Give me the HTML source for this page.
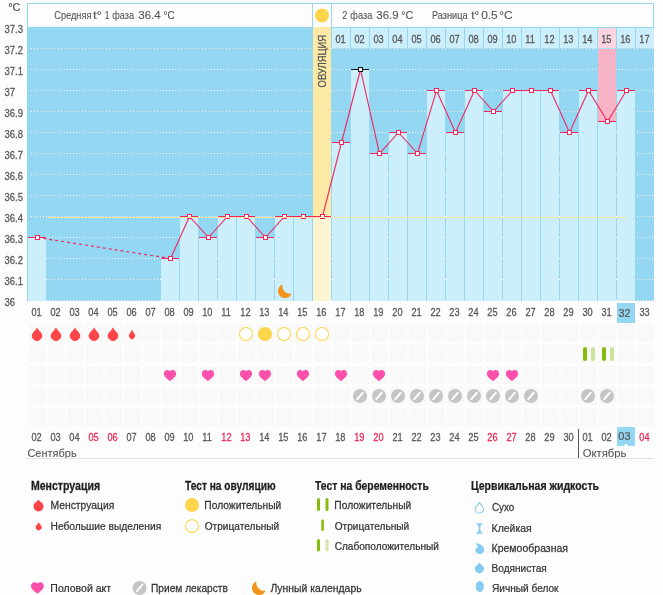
<!DOCTYPE html>
<html><head><meta charset="utf-8"><style>
html,body{margin:0;padding:0;background:#fdfdfd;}
body{width:663px;height:595px;position:relative;overflow:hidden;font-family:'Liberation Sans', sans-serif;}
</style></head><body>
<svg width="663" height="595" viewBox="0 0 663 595" style="position:absolute;left:0;top:0;will-change:transform" font-family="'Liberation Sans', sans-serif"><defs><pattern id="dots" x="31" y="0" width="3" height="1" patternUnits="userSpaceOnUse"><rect width="1" height="1" fill="#fff"/></pattern><pattern id="hatch" x="0" y="0" width="3" height="3" patternUnits="userSpaceOnUse"><rect width="3" height="3" fill="#fcfcfc"/><rect x="0" y="0" width="1" height="1" fill="#f3f3f3"/><rect x="1" y="1" width="1" height="1" fill="#f3f3f3"/><rect x="2" y="2" width="1" height="1" fill="#f3f3f3"/></pattern></defs><rect x="27" y="3" width="627" height="298" fill="#93d7f3" shape-rendering="crispEdges"/><g fill="#fdfdfd" shape-rendering="crispEdges"><rect x="28" y="4" width="284" height="23"/><rect x="313" y="4" width="18" height="23"/><rect x="332" y="4" width="321" height="23"/></g><g shape-rendering="crispEdges"><rect x="31" y="48" width="623" height="1" fill="url(#dots)"/><rect x="31" y="69" width="623" height="1" fill="url(#dots)"/><rect x="31" y="90" width="623" height="1" fill="url(#dots)"/><rect x="31" y="111" width="623" height="1" fill="url(#dots)"/><rect x="31" y="132" width="623" height="1" fill="url(#dots)"/><rect x="31" y="153" width="623" height="1" fill="url(#dots)"/><rect x="31" y="174" width="623" height="1" fill="url(#dots)"/><rect x="31" y="195" width="623" height="1" fill="url(#dots)"/><rect x="31" y="216" width="623" height="1" fill="url(#dots)"/><rect x="31" y="237" width="623" height="1" fill="url(#dots)"/><rect x="31" y="258" width="623" height="1" fill="url(#dots)"/><rect x="31" y="279" width="623" height="1" fill="url(#dots)"/><rect x="31" y="300" width="623" height="1" fill="url(#dots)"/></g><g fill="#cdeefb" shape-rendering="crispEdges"><rect x="332" y="28" width="18" height="20"/><rect x="351" y="28" width="18" height="20"/><rect x="370" y="28" width="18" height="20"/><rect x="389" y="28" width="18" height="20"/><rect x="408" y="28" width="18" height="20"/><rect x="427" y="28" width="18" height="20"/><rect x="446" y="28" width="18" height="20"/><rect x="465" y="28" width="18" height="20"/><rect x="484" y="28" width="18" height="20"/><rect x="503" y="28" width="18" height="20"/><rect x="522" y="28" width="18" height="20"/><rect x="541" y="28" width="18" height="20"/><rect x="560" y="28" width="18" height="20"/><rect x="579" y="28" width="18" height="20"/><rect x="598" y="28" width="18" height="20"/><rect x="617" y="28" width="18" height="20"/><rect x="636" y="28" width="18" height="20"/></g><rect x="313" y="27" width="18" height="274" fill="#fce9a6" shape-rendering="crispEdges"/><rect x="313" y="216" width="18" height="85" fill="#fdf4d1" shape-rendering="crispEdges"/><rect x="598" y="49" width="18" height="72" fill="#f8b4c7" shape-rendering="crispEdges"/><rect x="598" y="28" width="18" height="20" fill="#fbd6e0" shape-rendering="crispEdges"/><g fill="#cdeefb" shape-rendering="crispEdges"><rect x="28" y="237" width="18" height="64"/><rect x="161" y="258" width="18" height="43"/><rect x="180" y="216" width="18" height="85"/><rect x="199" y="237" width="18" height="64"/><rect x="218" y="216" width="18" height="85"/><rect x="237" y="216" width="18" height="85"/><rect x="256" y="237" width="18" height="64"/><rect x="275" y="216" width="18" height="85"/><rect x="294" y="216" width="18" height="85"/><rect x="332" y="142" width="18" height="159"/><rect x="351" y="69" width="18" height="232"/><rect x="370" y="153" width="18" height="148"/><rect x="389" y="132" width="18" height="169"/><rect x="408" y="153" width="18" height="148"/><rect x="427" y="90" width="18" height="211"/><rect x="446" y="132" width="18" height="169"/><rect x="465" y="90" width="18" height="211"/><rect x="484" y="111" width="18" height="190"/><rect x="503" y="90" width="18" height="211"/><rect x="522" y="90" width="18" height="211"/><rect x="541" y="90" width="18" height="211"/><rect x="560" y="132" width="18" height="169"/><rect x="579" y="90" width="18" height="211"/><rect x="598" y="121" width="18" height="180"/><rect x="617" y="90" width="18" height="211"/></g><g shape-rendering="crispEdges"><rect x="28" y="237" width="18" height="1" fill="#f0265c"/><rect x="161" y="258" width="18" height="1" fill="#f0265c"/><rect x="180" y="216" width="18" height="1" fill="#f0265c"/><rect x="199" y="237" width="18" height="1" fill="#f0265c"/><rect x="218" y="216" width="18" height="1" fill="#f0265c"/><rect x="237" y="216" width="18" height="1" fill="#f0265c"/><rect x="256" y="237" width="18" height="1" fill="#f0265c"/><rect x="275" y="216" width="18" height="1" fill="#f0265c"/><rect x="294" y="216" width="18" height="1" fill="#f0265c"/><rect x="313" y="216" width="18" height="1" fill="#f0265c"/><rect x="332" y="142" width="18" height="1" fill="#f0265c"/><rect x="351" y="69" width="18" height="1" fill="#111"/><rect x="370" y="153" width="18" height="1" fill="#f0265c"/><rect x="389" y="132" width="18" height="1" fill="#f0265c"/><rect x="408" y="153" width="18" height="1" fill="#f0265c"/><rect x="427" y="90" width="18" height="1" fill="#f0265c"/><rect x="446" y="132" width="18" height="1" fill="#f0265c"/><rect x="465" y="90" width="18" height="1" fill="#f0265c"/><rect x="484" y="111" width="18" height="1" fill="#f0265c"/><rect x="503" y="90" width="18" height="1" fill="#f0265c"/><rect x="522" y="90" width="18" height="1" fill="#f0265c"/><rect x="541" y="90" width="18" height="1" fill="#f0265c"/><rect x="560" y="132" width="18" height="1" fill="#f0265c"/><rect x="579" y="90" width="18" height="1" fill="#f0265c"/><rect x="598" y="121" width="18" height="1" fill="#f0265c"/><rect x="617" y="90" width="18" height="1" fill="#f0265c"/></g><line x1="37.5" y1="237.5" x2="170.5" y2="258.5" stroke="#f0265c" stroke-dasharray="3 3" stroke-width="1.2"/><path d="M170.5 258.5 L189.5 216.5 L208.5 237.5 L227.5 216.5 L246.5 216.5 L265.5 237.5 L284.5 216.5 L303.5 216.5 L322.5 216.5 L341.5 142.5 L360.5 69.5 L379.5 153.5 L398.5 132.5 L417.5 153.5 L436.5 90.5 L455.5 132.5 L474.5 90.5 L493.5 111.5 L512.5 90.5 L531.5 90.5 L550.5 90.5 L569.5 132.5 L588.5 90.5 L607.5 121.5 L626.5 90.5" fill="none" stroke="#f0265c" stroke-width="1.1"/><g shape-rendering="crispEdges"><rect x="35" y="235" width="5" height="5" fill="#f0265c"/><rect x="36" y="236" width="3" height="3" fill="#fff"/><rect x="168" y="256" width="5" height="5" fill="#f0265c"/><rect x="169" y="257" width="3" height="3" fill="#fff"/><rect x="187" y="214" width="5" height="5" fill="#f0265c"/><rect x="188" y="215" width="3" height="3" fill="#fff"/><rect x="206" y="235" width="5" height="5" fill="#f0265c"/><rect x="207" y="236" width="3" height="3" fill="#fff"/><rect x="225" y="214" width="5" height="5" fill="#f0265c"/><rect x="226" y="215" width="3" height="3" fill="#fff"/><rect x="244" y="214" width="5" height="5" fill="#f0265c"/><rect x="245" y="215" width="3" height="3" fill="#fff"/><rect x="263" y="235" width="5" height="5" fill="#f0265c"/><rect x="264" y="236" width="3" height="3" fill="#fff"/><rect x="282" y="214" width="5" height="5" fill="#f0265c"/><rect x="283" y="215" width="3" height="3" fill="#fff"/><rect x="301" y="214" width="5" height="5" fill="#f0265c"/><rect x="302" y="215" width="3" height="3" fill="#fff"/><rect x="320" y="214" width="5" height="5" fill="#f0265c"/><rect x="321" y="215" width="3" height="3" fill="#fff"/><rect x="339" y="140" width="5" height="5" fill="#f0265c"/><rect x="340" y="141" width="3" height="3" fill="#fff"/><rect x="358" y="67" width="5" height="5" fill="#111"/><rect x="359" y="68" width="3" height="3" fill="#fff"/><rect x="377" y="151" width="5" height="5" fill="#f0265c"/><rect x="378" y="152" width="3" height="3" fill="#fff"/><rect x="396" y="130" width="5" height="5" fill="#f0265c"/><rect x="397" y="131" width="3" height="3" fill="#fff"/><rect x="415" y="151" width="5" height="5" fill="#f0265c"/><rect x="416" y="152" width="3" height="3" fill="#fff"/><rect x="434" y="88" width="5" height="5" fill="#f0265c"/><rect x="435" y="89" width="3" height="3" fill="#fff"/><rect x="453" y="130" width="5" height="5" fill="#f0265c"/><rect x="454" y="131" width="3" height="3" fill="#fff"/><rect x="472" y="88" width="5" height="5" fill="#f0265c"/><rect x="473" y="89" width="3" height="3" fill="#fff"/><rect x="491" y="109" width="5" height="5" fill="#f0265c"/><rect x="492" y="110" width="3" height="3" fill="#fff"/><rect x="510" y="88" width="5" height="5" fill="#f0265c"/><rect x="511" y="89" width="3" height="3" fill="#fff"/><rect x="529" y="88" width="5" height="5" fill="#f0265c"/><rect x="530" y="89" width="3" height="3" fill="#fff"/><rect x="548" y="88" width="5" height="5" fill="#f0265c"/><rect x="549" y="89" width="3" height="3" fill="#fff"/><rect x="567" y="130" width="5" height="5" fill="#f0265c"/><rect x="568" y="131" width="3" height="3" fill="#fff"/><rect x="586" y="88" width="5" height="5" fill="#f0265c"/><rect x="587" y="89" width="3" height="3" fill="#fff"/><rect x="605" y="119" width="5" height="5" fill="#f0265c"/><rect x="606" y="120" width="3" height="3" fill="#fff"/><rect x="624" y="88" width="5" height="5" fill="#f0265c"/><rect x="625" y="89" width="3" height="3" fill="#fff"/></g><rect x="47" y="217" width="579" height="1" fill="#f6e3a1" shape-rendering="crispEdges"/><path transform="translate(278,284) scale(1.0)" d="M4.32 0.53 A7 7 0 1 0 13.48 9.65 A7.93 7.93 0 0 1 4.32 0.53 Z" fill="#f39418"/><circle cx="322" cy="15.5" r="7" fill="#fcd54b"/><text transform="translate(54.23,19) scale(0.923,1)" font-size="10" fill="#555" stroke="#555" stroke-width="0.1">Средняя</text><text transform="translate(92.90,19) scale(1.311,1)" font-size="10" fill="#555" stroke="#555" stroke-width="0.1">t°</text><text transform="translate(104.76,19) scale(0.835,1)" font-size="10" fill="#555" stroke="#555" stroke-width="0.1">1</text><text transform="translate(112.32,19) scale(0.914,1)" font-size="10" fill="#555" stroke="#555" stroke-width="0.1">фаза</text><text transform="translate(138.26,19) scale(1.050,1)" font-size="11" fill="#555" stroke="#555" stroke-width="0.1">36.4</text><text transform="translate(163.41,19) scale(0.905,1)" font-size="11" fill="#555" stroke="#555" stroke-width="0.1">°C</text><text transform="translate(342.34,19) scale(0.922,1)" font-size="10" fill="#555" stroke="#555" stroke-width="0.1">2</text><text transform="translate(350.31,19) scale(0.923,1)" font-size="10" fill="#555" stroke="#555" stroke-width="0.1">фаза</text><text transform="translate(376.36,19) scale(1.041,1)" font-size="11" fill="#555" stroke="#555" stroke-width="0.1">36.9</text><text transform="translate(401.25,19) scale(0.985,1)" font-size="11" fill="#555" stroke="#555" stroke-width="0.1">°C</text><text transform="translate(431.95,19) scale(0.919,1)" font-size="10" fill="#555" stroke="#555" stroke-width="0.1">Разница</text><text transform="translate(471.22,19) scale(1.178,1)" font-size="10" fill="#555" stroke="#555" stroke-width="0.1">t°</text><text transform="translate(481.13,19) scale(1.083,1)" font-size="11" fill="#555" stroke="#555" stroke-width="0.1">0.5</text><text transform="translate(499.19,19) scale(1.083,1)" font-size="11" fill="#555" stroke="#555" stroke-width="0.1">°C</text><g transform="translate(326.3,87) rotate(-90)"><text transform="translate(-0.45,0) scale(0.944,1)" font-size="10" fill="#555" stroke="#555" stroke-width="0.25">ОВУЛЯЦИЯ</text></g><text transform="translate(335.43,42.8) scale(0.920,1)" font-size="10" fill="#555" stroke="#555" stroke-width="0.25">01</text><text transform="translate(354.44,42.8) scale(0.920,1)" font-size="10" fill="#555" stroke="#555" stroke-width="0.25">02</text><text transform="translate(373.41,42.8) scale(0.920,1)" font-size="10" fill="#555" stroke="#555" stroke-width="0.25">03</text><text transform="translate(392.34,42.8) scale(0.920,1)" font-size="10" fill="#555" stroke="#555" stroke-width="0.25">04</text><text transform="translate(411.40,42.8) scale(0.920,1)" font-size="10" fill="#555" stroke="#555" stroke-width="0.25">05</text><text transform="translate(430.41,42.8) scale(0.920,1)" font-size="10" fill="#555" stroke="#555" stroke-width="0.25">06</text><text transform="translate(449.44,42.8) scale(0.920,1)" font-size="10" fill="#555" stroke="#555" stroke-width="0.25">07</text><text transform="translate(468.40,42.8) scale(0.920,1)" font-size="10" fill="#555" stroke="#555" stroke-width="0.25">08</text><text transform="translate(487.42,42.8) scale(0.920,1)" font-size="10" fill="#555" stroke="#555" stroke-width="0.25">09</text><text transform="translate(506.21,42.8) scale(0.920,1)" font-size="10" fill="#555" stroke="#555" stroke-width="0.25">10</text><text transform="translate(525.26,42.8) scale(0.920,1)" font-size="10" fill="#555" stroke="#555" stroke-width="0.25">11</text><text transform="translate(544.26,42.8) scale(0.920,1)" font-size="10" fill="#555" stroke="#555" stroke-width="0.25">12</text><text transform="translate(563.24,42.8) scale(0.920,1)" font-size="10" fill="#555" stroke="#555" stroke-width="0.25">13</text><text transform="translate(582.17,42.8) scale(0.920,1)" font-size="10" fill="#555" stroke="#555" stroke-width="0.25">14</text><text transform="translate(601.23,42.8) scale(0.920,1)" font-size="10" fill="#555" stroke="#555" stroke-width="0.25">15</text><text transform="translate(620.24,42.8) scale(0.920,1)" font-size="10" fill="#555" stroke="#555" stroke-width="0.25">16</text><text transform="translate(639.26,42.8) scale(0.920,1)" font-size="10" fill="#555" stroke="#555" stroke-width="0.25">17</text><text transform="translate(8.25,11) scale(0.942,1)" font-size="11.5" fill="#555" stroke="#555" stroke-width="0.25">°C</text><text transform="translate(4.44,33) scale(0.950,1)" font-size="10" fill="#555" stroke="#555" stroke-width="0.25">37.3</text><text transform="translate(4.44,54) scale(0.950,1)" font-size="10" fill="#555" stroke="#555" stroke-width="0.25">37.2</text><text transform="translate(4.44,75) scale(0.950,1)" font-size="10" fill="#555" stroke="#555" stroke-width="0.25">37.1</text><text transform="translate(4.44,96) scale(0.950,1)" font-size="10" fill="#555" stroke="#555" stroke-width="0.25">37</text><text transform="translate(4.44,117) scale(0.950,1)" font-size="10" fill="#555" stroke="#555" stroke-width="0.25">36.9</text><text transform="translate(4.44,138) scale(0.950,1)" font-size="10" fill="#555" stroke="#555" stroke-width="0.25">36.8</text><text transform="translate(4.44,159) scale(0.950,1)" font-size="10" fill="#555" stroke="#555" stroke-width="0.25">36.7</text><text transform="translate(4.44,180) scale(0.950,1)" font-size="10" fill="#555" stroke="#555" stroke-width="0.25">36.6</text><text transform="translate(4.44,201) scale(0.950,1)" font-size="10" fill="#555" stroke="#555" stroke-width="0.25">36.5</text><text transform="translate(4.44,222) scale(0.950,1)" font-size="10" fill="#555" stroke="#555" stroke-width="0.25">36.4</text><text transform="translate(4.44,243) scale(0.950,1)" font-size="10" fill="#555" stroke="#555" stroke-width="0.25">36.3</text><text transform="translate(4.44,264) scale(0.950,1)" font-size="10" fill="#555" stroke="#555" stroke-width="0.25">36.2</text><text transform="translate(4.44,285) scale(0.950,1)" font-size="10" fill="#555" stroke="#555" stroke-width="0.25">36.1</text><text transform="translate(4.44,306) scale(0.950,1)" font-size="10" fill="#555" stroke="#555" stroke-width="0.25">36</text><rect x="617" y="303" width="18" height="20" fill="#93d7f3" shape-rendering="crispEdges"/><text transform="translate(31.43,316) scale(0.920,1)" font-size="10" fill="#555" stroke="#555" stroke-width="0.25">01</text><text transform="translate(50.44,316) scale(0.920,1)" font-size="10" fill="#555" stroke="#555" stroke-width="0.25">02</text><text transform="translate(69.41,316) scale(0.920,1)" font-size="10" fill="#555" stroke="#555" stroke-width="0.25">03</text><text transform="translate(88.34,316) scale(0.920,1)" font-size="10" fill="#555" stroke="#555" stroke-width="0.25">04</text><text transform="translate(107.40,316) scale(0.920,1)" font-size="10" fill="#555" stroke="#555" stroke-width="0.25">05</text><text transform="translate(126.41,316) scale(0.920,1)" font-size="10" fill="#555" stroke="#555" stroke-width="0.25">06</text><text transform="translate(145.44,316) scale(0.920,1)" font-size="10" fill="#555" stroke="#555" stroke-width="0.25">07</text><text transform="translate(164.40,316) scale(0.920,1)" font-size="10" fill="#555" stroke="#555" stroke-width="0.25">08</text><text transform="translate(183.42,316) scale(0.920,1)" font-size="10" fill="#555" stroke="#555" stroke-width="0.25">09</text><text transform="translate(202.21,316) scale(0.920,1)" font-size="10" fill="#555" stroke="#555" stroke-width="0.25">10</text><text transform="translate(221.26,316) scale(0.920,1)" font-size="10" fill="#555" stroke="#555" stroke-width="0.25">11</text><text transform="translate(240.26,316) scale(0.920,1)" font-size="10" fill="#555" stroke="#555" stroke-width="0.25">12</text><text transform="translate(259.24,316) scale(0.920,1)" font-size="10" fill="#555" stroke="#555" stroke-width="0.25">13</text><text transform="translate(278.17,316) scale(0.920,1)" font-size="10" fill="#555" stroke="#555" stroke-width="0.25">14</text><text transform="translate(297.23,316) scale(0.920,1)" font-size="10" fill="#555" stroke="#555" stroke-width="0.25">15</text><text transform="translate(316.24,316) scale(0.920,1)" font-size="10" fill="#555" stroke="#555" stroke-width="0.25">16</text><text transform="translate(335.26,316) scale(0.920,1)" font-size="10" fill="#555" stroke="#555" stroke-width="0.25">17</text><text transform="translate(354.23,316) scale(0.920,1)" font-size="10" fill="#555" stroke="#555" stroke-width="0.25">18</text><text transform="translate(373.25,316) scale(0.920,1)" font-size="10" fill="#555" stroke="#555" stroke-width="0.25">19</text><text transform="translate(392.33,316) scale(0.920,1)" font-size="10" fill="#555" stroke="#555" stroke-width="0.25">20</text><text transform="translate(411.38,316) scale(0.920,1)" font-size="10" fill="#555" stroke="#555" stroke-width="0.25">21</text><text transform="translate(430.38,316) scale(0.920,1)" font-size="10" fill="#555" stroke="#555" stroke-width="0.25">22</text><text transform="translate(449.35,316) scale(0.920,1)" font-size="10" fill="#555" stroke="#555" stroke-width="0.25">23</text><text transform="translate(468.29,316) scale(0.920,1)" font-size="10" fill="#555" stroke="#555" stroke-width="0.25">24</text><text transform="translate(487.35,316) scale(0.920,1)" font-size="10" fill="#555" stroke="#555" stroke-width="0.25">25</text><text transform="translate(506.35,316) scale(0.920,1)" font-size="10" fill="#555" stroke="#555" stroke-width="0.25">26</text><text transform="translate(525.38,316) scale(0.920,1)" font-size="10" fill="#555" stroke="#555" stroke-width="0.25">27</text><text transform="translate(544.35,316) scale(0.920,1)" font-size="10" fill="#555" stroke="#555" stroke-width="0.25">28</text><text transform="translate(563.37,316) scale(0.920,1)" font-size="10" fill="#555" stroke="#555" stroke-width="0.25">29</text><text transform="translate(582.39,316) scale(0.920,1)" font-size="10" fill="#555" stroke="#555" stroke-width="0.25">30</text><text transform="translate(601.43,316) scale(0.920,1)" font-size="10" fill="#555" stroke="#555" stroke-width="0.25">31</text><text transform="translate(618.59,316.6) scale(0.959,1)" font-size="11.2" fill="#555" stroke="#555" stroke-width="0.25">32</text><text transform="translate(639.41,316) scale(0.920,1)" font-size="10" fill="#555" stroke="#555" stroke-width="0.25">33</text><g fill="url(#hatch)" shape-rendering="crispEdges"><rect x="29" y="324" width="17" height="18"/><rect x="48" y="324" width="17" height="18"/><rect x="67" y="324" width="17" height="18"/><rect x="86" y="324" width="17" height="18"/><rect x="105" y="324" width="17" height="18"/><rect x="124" y="324" width="17" height="18"/><rect x="143" y="324" width="17" height="18"/><rect x="162" y="324" width="17" height="18"/><rect x="181" y="324" width="17" height="18"/><rect x="200" y="324" width="17" height="18"/><rect x="219" y="324" width="17" height="18"/><rect x="238" y="324" width="17" height="18"/><rect x="257" y="324" width="17" height="18"/><rect x="276" y="324" width="17" height="18"/><rect x="295" y="324" width="17" height="18"/><rect x="314" y="324" width="17" height="18"/><rect x="333" y="324" width="17" height="18"/><rect x="352" y="324" width="17" height="18"/><rect x="371" y="324" width="17" height="18"/><rect x="390" y="324" width="17" height="18"/><rect x="409" y="324" width="17" height="18"/><rect x="428" y="324" width="17" height="18"/><rect x="447" y="324" width="17" height="18"/><rect x="466" y="324" width="17" height="18"/><rect x="485" y="324" width="17" height="18"/><rect x="504" y="324" width="17" height="18"/><rect x="523" y="324" width="17" height="18"/><rect x="542" y="324" width="17" height="18"/><rect x="561" y="324" width="17" height="18"/><rect x="580" y="324" width="17" height="18"/><rect x="599" y="324" width="17" height="18"/><rect x="618" y="324" width="17" height="18"/><rect x="637" y="324" width="17" height="18"/><rect x="29" y="345" width="17" height="18"/><rect x="48" y="345" width="17" height="18"/><rect x="67" y="345" width="17" height="18"/><rect x="86" y="345" width="17" height="18"/><rect x="105" y="345" width="17" height="18"/><rect x="124" y="345" width="17" height="18"/><rect x="143" y="345" width="17" height="18"/><rect x="162" y="345" width="17" height="18"/><rect x="181" y="345" width="17" height="18"/><rect x="200" y="345" width="17" height="18"/><rect x="219" y="345" width="17" height="18"/><rect x="238" y="345" width="17" height="18"/><rect x="257" y="345" width="17" height="18"/><rect x="276" y="345" width="17" height="18"/><rect x="295" y="345" width="17" height="18"/><rect x="314" y="345" width="17" height="18"/><rect x="333" y="345" width="17" height="18"/><rect x="352" y="345" width="17" height="18"/><rect x="371" y="345" width="17" height="18"/><rect x="390" y="345" width="17" height="18"/><rect x="409" y="345" width="17" height="18"/><rect x="428" y="345" width="17" height="18"/><rect x="447" y="345" width="17" height="18"/><rect x="466" y="345" width="17" height="18"/><rect x="485" y="345" width="17" height="18"/><rect x="504" y="345" width="17" height="18"/><rect x="523" y="345" width="17" height="18"/><rect x="542" y="345" width="17" height="18"/><rect x="561" y="345" width="17" height="18"/><rect x="580" y="345" width="17" height="18"/><rect x="599" y="345" width="17" height="18"/><rect x="618" y="345" width="17" height="18"/><rect x="637" y="345" width="17" height="18"/><rect x="29" y="366" width="17" height="18"/><rect x="48" y="366" width="17" height="18"/><rect x="67" y="366" width="17" height="18"/><rect x="86" y="366" width="17" height="18"/><rect x="105" y="366" width="17" height="18"/><rect x="124" y="366" width="17" height="18"/><rect x="143" y="366" width="17" height="18"/><rect x="162" y="366" width="17" height="18"/><rect x="181" y="366" width="17" height="18"/><rect x="200" y="366" width="17" height="18"/><rect x="219" y="366" width="17" height="18"/><rect x="238" y="366" width="17" height="18"/><rect x="257" y="366" width="17" height="18"/><rect x="276" y="366" width="17" height="18"/><rect x="295" y="366" width="17" height="18"/><rect x="314" y="366" width="17" height="18"/><rect x="333" y="366" width="17" height="18"/><rect x="352" y="366" width="17" height="18"/><rect x="371" y="366" width="17" height="18"/><rect x="390" y="366" width="17" height="18"/><rect x="409" y="366" width="17" height="18"/><rect x="428" y="366" width="17" height="18"/><rect x="447" y="366" width="17" height="18"/><rect x="466" y="366" width="17" height="18"/><rect x="485" y="366" width="17" height="18"/><rect x="504" y="366" width="17" height="18"/><rect x="523" y="366" width="17" height="18"/><rect x="542" y="366" width="17" height="18"/><rect x="561" y="366" width="17" height="18"/><rect x="580" y="366" width="17" height="18"/><rect x="599" y="366" width="17" height="18"/><rect x="618" y="366" width="17" height="18"/><rect x="637" y="366" width="17" height="18"/><rect x="29" y="387" width="17" height="18"/><rect x="48" y="387" width="17" height="18"/><rect x="67" y="387" width="17" height="18"/><rect x="86" y="387" width="17" height="18"/><rect x="105" y="387" width="17" height="18"/><rect x="124" y="387" width="17" height="18"/><rect x="143" y="387" width="17" height="18"/><rect x="162" y="387" width="17" height="18"/><rect x="181" y="387" width="17" height="18"/><rect x="200" y="387" width="17" height="18"/><rect x="219" y="387" width="17" height="18"/><rect x="238" y="387" width="17" height="18"/><rect x="257" y="387" width="17" height="18"/><rect x="276" y="387" width="17" height="18"/><rect x="295" y="387" width="17" height="18"/><rect x="314" y="387" width="17" height="18"/><rect x="333" y="387" width="17" height="18"/><rect x="352" y="387" width="17" height="18"/><rect x="371" y="387" width="17" height="18"/><rect x="390" y="387" width="17" height="18"/><rect x="409" y="387" width="17" height="18"/><rect x="428" y="387" width="17" height="18"/><rect x="447" y="387" width="17" height="18"/><rect x="466" y="387" width="17" height="18"/><rect x="485" y="387" width="17" height="18"/><rect x="504" y="387" width="17" height="18"/><rect x="523" y="387" width="17" height="18"/><rect x="542" y="387" width="17" height="18"/><rect x="561" y="387" width="17" height="18"/><rect x="580" y="387" width="17" height="18"/><rect x="599" y="387" width="17" height="18"/><rect x="618" y="387" width="17" height="18"/><rect x="637" y="387" width="17" height="18"/><rect x="29" y="408" width="17" height="18"/><rect x="48" y="408" width="17" height="18"/><rect x="67" y="408" width="17" height="18"/><rect x="86" y="408" width="17" height="18"/><rect x="105" y="408" width="17" height="18"/><rect x="124" y="408" width="17" height="18"/><rect x="143" y="408" width="17" height="18"/><rect x="162" y="408" width="17" height="18"/><rect x="181" y="408" width="17" height="18"/><rect x="200" y="408" width="17" height="18"/><rect x="219" y="408" width="17" height="18"/><rect x="238" y="408" width="17" height="18"/><rect x="257" y="408" width="17" height="18"/><rect x="276" y="408" width="17" height="18"/><rect x="295" y="408" width="17" height="18"/><rect x="314" y="408" width="17" height="18"/><rect x="333" y="408" width="17" height="18"/><rect x="352" y="408" width="17" height="18"/><rect x="371" y="408" width="17" height="18"/><rect x="390" y="408" width="17" height="18"/><rect x="409" y="408" width="17" height="18"/><rect x="428" y="408" width="17" height="18"/><rect x="447" y="408" width="17" height="18"/><rect x="466" y="408" width="17" height="18"/><rect x="485" y="408" width="17" height="18"/><rect x="504" y="408" width="17" height="18"/><rect x="523" y="408" width="17" height="18"/><rect x="542" y="408" width="17" height="18"/><rect x="561" y="408" width="17" height="18"/><rect x="580" y="408" width="17" height="18"/><rect x="599" y="408" width="17" height="18"/><rect x="618" y="408" width="17" height="18"/><rect x="637" y="408" width="17" height="18"/></g><path d="M37.00 327.20 C37.73 329.10 39.86 331.28 41.08 332.64 A5.1 5.1 0 1 1 32.92 332.64 C34.14 331.28 36.27 329.10 37.00 327.20 Z" fill="#ff4548"/><path d="M56.00 327.20 C56.73 329.10 58.86 331.28 60.08 332.64 A5.1 5.1 0 1 1 51.92 332.64 C53.14 331.28 55.27 329.10 56.00 327.20 Z" fill="#ff4548"/><path d="M75.00 327.20 C75.73 329.10 77.86 331.28 79.08 332.64 A5.1 5.1 0 1 1 70.92 332.64 C72.14 331.28 74.27 329.10 75.00 327.20 Z" fill="#ff4548"/><path d="M94.00 327.20 C94.73 329.10 96.86 331.28 98.08 332.64 A5.1 5.1 0 1 1 89.92 332.64 C91.14 331.28 93.27 329.10 94.00 327.20 Z" fill="#ff4548"/><path d="M113.00 327.20 C113.73 329.10 115.86 331.28 117.08 332.64 A5.1 5.1 0 1 1 108.92 332.64 C110.14 331.28 112.27 329.10 113.00 327.20 Z" fill="#ff4548"/><path d="M132.00 329.50 C132.50 331.18 133.94 333.10 134.77 334.30 A3.2 3.2 0 1 1 129.23 334.30 C130.06 333.10 131.50 331.18 132.00 329.50 Z" fill="#ff4548"/><circle cx="246" cy="334" r="6.5" fill="#fff" stroke="#fcd54b" stroke-width="1.05"/><circle cx="284" cy="334" r="6.5" fill="#fff" stroke="#fcd54b" stroke-width="1.05"/><circle cx="303" cy="334" r="6.5" fill="#fff" stroke="#fcd54b" stroke-width="1.05"/><circle cx="322" cy="334" r="6.5" fill="#fff" stroke="#fcd54b" stroke-width="1.05"/><circle cx="265" cy="334" r="7.1" fill="#fcd54b"/><rect x="583" y="347" width="4" height="14" rx="2" fill="#86bd0c"/><rect x="591" y="347" width="4" height="14" rx="2" fill="#cbe39a"/><rect x="602" y="347" width="4" height="14" rx="2" fill="#86bd0c"/><rect x="610" y="347" width="4" height="14" rx="2" fill="#cbe39a"/><path transform="translate(170,375.5) scale(1.0)" d="M0 5.5 C-2 3.8 -6.1 1.5 -6.1 -1.8 C-6.1 -4 -4.5 -5.5 -2.9 -5.5 C-1.5 -5.5 -0.5 -4.8 0 -4.2 C0.5 -4.8 1.5 -5.5 2.9 -5.5 C4.5 -5.5 6.1 -4 6.1 -1.8 C6.1 1.5 2 3.8 0 5.5 Z" fill="#fd4fac"/><path transform="translate(208,375.5) scale(1.0)" d="M0 5.5 C-2 3.8 -6.1 1.5 -6.1 -1.8 C-6.1 -4 -4.5 -5.5 -2.9 -5.5 C-1.5 -5.5 -0.5 -4.8 0 -4.2 C0.5 -4.8 1.5 -5.5 2.9 -5.5 C4.5 -5.5 6.1 -4 6.1 -1.8 C6.1 1.5 2 3.8 0 5.5 Z" fill="#fd4fac"/><path transform="translate(246,375.5) scale(1.0)" d="M0 5.5 C-2 3.8 -6.1 1.5 -6.1 -1.8 C-6.1 -4 -4.5 -5.5 -2.9 -5.5 C-1.5 -5.5 -0.5 -4.8 0 -4.2 C0.5 -4.8 1.5 -5.5 2.9 -5.5 C4.5 -5.5 6.1 -4 6.1 -1.8 C6.1 1.5 2 3.8 0 5.5 Z" fill="#fd4fac"/><path transform="translate(265,375.5) scale(1.0)" d="M0 5.5 C-2 3.8 -6.1 1.5 -6.1 -1.8 C-6.1 -4 -4.5 -5.5 -2.9 -5.5 C-1.5 -5.5 -0.5 -4.8 0 -4.2 C0.5 -4.8 1.5 -5.5 2.9 -5.5 C4.5 -5.5 6.1 -4 6.1 -1.8 C6.1 1.5 2 3.8 0 5.5 Z" fill="#fd4fac"/><path transform="translate(303,375.5) scale(1.0)" d="M0 5.5 C-2 3.8 -6.1 1.5 -6.1 -1.8 C-6.1 -4 -4.5 -5.5 -2.9 -5.5 C-1.5 -5.5 -0.5 -4.8 0 -4.2 C0.5 -4.8 1.5 -5.5 2.9 -5.5 C4.5 -5.5 6.1 -4 6.1 -1.8 C6.1 1.5 2 3.8 0 5.5 Z" fill="#fd4fac"/><path transform="translate(341,375.5) scale(1.0)" d="M0 5.5 C-2 3.8 -6.1 1.5 -6.1 -1.8 C-6.1 -4 -4.5 -5.5 -2.9 -5.5 C-1.5 -5.5 -0.5 -4.8 0 -4.2 C0.5 -4.8 1.5 -5.5 2.9 -5.5 C4.5 -5.5 6.1 -4 6.1 -1.8 C6.1 1.5 2 3.8 0 5.5 Z" fill="#fd4fac"/><path transform="translate(379,375.5) scale(1.0)" d="M0 5.5 C-2 3.8 -6.1 1.5 -6.1 -1.8 C-6.1 -4 -4.5 -5.5 -2.9 -5.5 C-1.5 -5.5 -0.5 -4.8 0 -4.2 C0.5 -4.8 1.5 -5.5 2.9 -5.5 C4.5 -5.5 6.1 -4 6.1 -1.8 C6.1 1.5 2 3.8 0 5.5 Z" fill="#fd4fac"/><path transform="translate(493,375.5) scale(1.0)" d="M0 5.5 C-2 3.8 -6.1 1.5 -6.1 -1.8 C-6.1 -4 -4.5 -5.5 -2.9 -5.5 C-1.5 -5.5 -0.5 -4.8 0 -4.2 C0.5 -4.8 1.5 -5.5 2.9 -5.5 C4.5 -5.5 6.1 -4 6.1 -1.8 C6.1 1.5 2 3.8 0 5.5 Z" fill="#fd4fac"/><path transform="translate(512,375.5) scale(1.0)" d="M0 5.5 C-2 3.8 -6.1 1.5 -6.1 -1.8 C-6.1 -4 -4.5 -5.5 -2.9 -5.5 C-1.5 -5.5 -0.5 -4.8 0 -4.2 C0.5 -4.8 1.5 -5.5 2.9 -5.5 C4.5 -5.5 6.1 -4 6.1 -1.8 C6.1 1.5 2 3.8 0 5.5 Z" fill="#fd4fac"/><circle cx="360" cy="396" r="7" fill="#c5c5c5"/><line x1="357.2" y1="399.3" x2="362.8" y2="392.7" stroke="#fff" stroke-width="1.9" stroke-linecap="round"/><circle cx="379" cy="396" r="7" fill="#c5c5c5"/><line x1="376.2" y1="399.3" x2="381.8" y2="392.7" stroke="#fff" stroke-width="1.9" stroke-linecap="round"/><circle cx="398" cy="396" r="7" fill="#c5c5c5"/><line x1="395.2" y1="399.3" x2="400.8" y2="392.7" stroke="#fff" stroke-width="1.9" stroke-linecap="round"/><circle cx="417" cy="396" r="7" fill="#c5c5c5"/><line x1="414.2" y1="399.3" x2="419.8" y2="392.7" stroke="#fff" stroke-width="1.9" stroke-linecap="round"/><circle cx="436" cy="396" r="7" fill="#c5c5c5"/><line x1="433.2" y1="399.3" x2="438.8" y2="392.7" stroke="#fff" stroke-width="1.9" stroke-linecap="round"/><circle cx="455" cy="396" r="7" fill="#c5c5c5"/><line x1="452.2" y1="399.3" x2="457.8" y2="392.7" stroke="#fff" stroke-width="1.9" stroke-linecap="round"/><circle cx="474" cy="396" r="7" fill="#c5c5c5"/><line x1="471.2" y1="399.3" x2="476.8" y2="392.7" stroke="#fff" stroke-width="1.9" stroke-linecap="round"/><circle cx="493" cy="396" r="7" fill="#c5c5c5"/><line x1="490.2" y1="399.3" x2="495.8" y2="392.7" stroke="#fff" stroke-width="1.9" stroke-linecap="round"/><circle cx="512" cy="396" r="7" fill="#c5c5c5"/><line x1="509.2" y1="399.3" x2="514.8" y2="392.7" stroke="#fff" stroke-width="1.9" stroke-linecap="round"/><circle cx="531" cy="396" r="7" fill="#c5c5c5"/><line x1="528.2" y1="399.3" x2="533.8" y2="392.7" stroke="#fff" stroke-width="1.9" stroke-linecap="round"/><circle cx="588" cy="396" r="7" fill="#c5c5c5"/><line x1="585.2" y1="399.3" x2="590.8" y2="392.7" stroke="#fff" stroke-width="1.9" stroke-linecap="round"/><circle cx="607" cy="396" r="7" fill="#c5c5c5"/><line x1="604.2" y1="399.3" x2="609.8" y2="392.7" stroke="#fff" stroke-width="1.9" stroke-linecap="round"/><text transform="translate(31.44,441) scale(0.920,1)" font-size="10" fill="#555" stroke="#555" stroke-width="0.25">02</text><text transform="translate(50.41,441) scale(0.920,1)" font-size="10" fill="#555" stroke="#555" stroke-width="0.25">03</text><text transform="translate(69.34,441) scale(0.920,1)" font-size="10" fill="#555" stroke="#555" stroke-width="0.25">04</text><text transform="translate(88.40,441) scale(0.920,1)" font-size="10" fill="#ee2452" stroke="#ee2452" stroke-width="0.25">05</text><text transform="translate(107.41,441) scale(0.920,1)" font-size="10" fill="#ee2452" stroke="#ee2452" stroke-width="0.25">06</text><text transform="translate(126.44,441) scale(0.920,1)" font-size="10" fill="#555" stroke="#555" stroke-width="0.25">07</text><text transform="translate(145.40,441) scale(0.920,1)" font-size="10" fill="#555" stroke="#555" stroke-width="0.25">08</text><text transform="translate(164.42,441) scale(0.920,1)" font-size="10" fill="#555" stroke="#555" stroke-width="0.25">09</text><text transform="translate(183.21,441) scale(0.920,1)" font-size="10" fill="#555" stroke="#555" stroke-width="0.25">10</text><text transform="translate(202.26,441) scale(0.920,1)" font-size="10" fill="#555" stroke="#555" stroke-width="0.25">11</text><text transform="translate(221.26,441) scale(0.920,1)" font-size="10" fill="#ee2452" stroke="#ee2452" stroke-width="0.25">12</text><text transform="translate(240.24,441) scale(0.920,1)" font-size="10" fill="#ee2452" stroke="#ee2452" stroke-width="0.25">13</text><text transform="translate(259.17,441) scale(0.920,1)" font-size="10" fill="#555" stroke="#555" stroke-width="0.25">14</text><text transform="translate(278.23,441) scale(0.920,1)" font-size="10" fill="#555" stroke="#555" stroke-width="0.25">15</text><text transform="translate(297.24,441) scale(0.920,1)" font-size="10" fill="#555" stroke="#555" stroke-width="0.25">16</text><text transform="translate(316.26,441) scale(0.920,1)" font-size="10" fill="#555" stroke="#555" stroke-width="0.25">17</text><text transform="translate(335.23,441) scale(0.920,1)" font-size="10" fill="#555" stroke="#555" stroke-width="0.25">18</text><text transform="translate(354.25,441) scale(0.920,1)" font-size="10" fill="#ee2452" stroke="#ee2452" stroke-width="0.25">19</text><text transform="translate(373.33,441) scale(0.920,1)" font-size="10" fill="#ee2452" stroke="#ee2452" stroke-width="0.25">20</text><text transform="translate(392.38,441) scale(0.920,1)" font-size="10" fill="#555" stroke="#555" stroke-width="0.25">21</text><text transform="translate(411.38,441) scale(0.920,1)" font-size="10" fill="#555" stroke="#555" stroke-width="0.25">22</text><text transform="translate(430.35,441) scale(0.920,1)" font-size="10" fill="#555" stroke="#555" stroke-width="0.25">23</text><text transform="translate(449.29,441) scale(0.920,1)" font-size="10" fill="#555" stroke="#555" stroke-width="0.25">24</text><text transform="translate(468.35,441) scale(0.920,1)" font-size="10" fill="#555" stroke="#555" stroke-width="0.25">25</text><text transform="translate(487.35,441) scale(0.920,1)" font-size="10" fill="#ee2452" stroke="#ee2452" stroke-width="0.25">26</text><text transform="translate(506.38,441) scale(0.920,1)" font-size="10" fill="#ee2452" stroke="#ee2452" stroke-width="0.25">27</text><text transform="translate(525.35,441) scale(0.920,1)" font-size="10" fill="#555" stroke="#555" stroke-width="0.25">28</text><text transform="translate(544.37,441) scale(0.920,1)" font-size="10" fill="#555" stroke="#555" stroke-width="0.25">29</text><text transform="translate(563.39,441) scale(0.920,1)" font-size="10" fill="#555" stroke="#555" stroke-width="0.25">30</text><text transform="translate(582.43,441) scale(0.920,1)" font-size="10" fill="#555" stroke="#555" stroke-width="0.25">01</text><text transform="translate(601.44,441) scale(0.920,1)" font-size="10" fill="#555" stroke="#555" stroke-width="0.25">02</text><text transform="translate(639.34,441) scale(0.920,1)" font-size="10" fill="#ee2452" stroke="#ee2452" stroke-width="0.25">04</text><rect x="617" y="427" width="18" height="19" fill="#93d7f3" shape-rendering="crispEdges"/><path d="M623.5 446 L626 443.5 L628.5 446 Z" fill="#fdfdfd"/><text transform="translate(618.37,440) scale(0.980,1)" font-size="11.2" fill="#555" stroke="#555" stroke-width="0.25">03</text><text transform="translate(27.44,457) scale(0.981,1)" font-size="11.2" fill="#555" stroke="#555" stroke-width="0.1">Сентябрь</text><text transform="translate(582.66,457) scale(1.010,1)" font-size="11.2" fill="#555" stroke="#555" stroke-width="0.1">Октябрь</text><rect x="578" y="429" width="1" height="29" fill="#555" shape-rendering="crispEdges"/><rect x="26" y="458" width="628" height="1" fill="#e2e2e2" shape-rendering="crispEdges"/><text transform="translate(30.89,490) scale(0.881,1)" font-size="12" font-weight="bold" fill="#1e1e1e" stroke="#1e1e1e" stroke-width="0.25">Менструация</text><path d="M38.50 499.40 C39.13 500.60 40.95 501.97 42.00 502.83 A5.0 5.0 0 1 1 35.00 502.83 C36.05 501.97 37.87 500.60 38.50 499.40 Z" fill="#ff4548"/><text transform="translate(50.55,509) scale(0.914,1)" font-size="11.3" fill="#333" stroke="#333" stroke-width="0.25">Менструация</text><path d="M38.70 522.30 C39.13 523.42 40.38 524.70 41.10 525.50 A3.0 3.0 0 1 1 36.30 525.50 C37.02 524.70 38.27 523.42 38.70 522.30 Z" fill="#ff4548"/><text transform="translate(50.56,530) scale(0.906,1)" font-size="11.3" fill="#333" stroke="#333" stroke-width="0.25">Небольшие выделения</text><text transform="translate(184.99,490) scale(0.849,1)" font-size="12" font-weight="bold" fill="#1e1e1e" stroke="#1e1e1e" stroke-width="0.25">Тест на овуляцию</text><circle cx="192" cy="505" r="7" fill="#fcd54b"/><text transform="translate(204.37,509) scale(0.905,1)" font-size="11.3" fill="#333" stroke="#333" stroke-width="0.25">Положительный</text><circle cx="192" cy="526" r="6.4" fill="#fff" stroke="#fcd54b" stroke-width="1.1"/><text transform="translate(204.72,530) scale(0.897,1)" font-size="11.3" fill="#333" stroke="#333" stroke-width="0.25">Отрицательный</text><text transform="translate(314.98,490) scale(0.867,1)" font-size="12" font-weight="bold" fill="#1e1e1e" stroke="#1e1e1e" stroke-width="0.25">Тест на беременность</text><rect x="317" y="498" width="3" height="13" rx="1.5" fill="#86bd0c"/><rect x="325.5" y="498" width="3" height="13" rx="1.5" fill="#86bd0c"/><text transform="translate(334.37,509) scale(0.905,1)" font-size="11.3" fill="#333" stroke="#333" stroke-width="0.25">Положительный</text><rect x="321.3" y="519.5" width="2.6" height="11.5" rx="1.3" fill="#86bd0c"/><text transform="translate(334.72,530) scale(0.897,1)" font-size="11.3" fill="#333" stroke="#333" stroke-width="0.25">Отрицательный</text><rect x="317" y="539" width="3" height="12.5" rx="1.5" fill="#86bd0c"/><rect x="325.5" y="539" width="3" height="12.5" rx="1.5" fill="#d3e8ad"/><text transform="translate(334.69,550) scale(0.893,1)" font-size="11.3" fill="#333" stroke="#333" stroke-width="0.25">Слабоположительный</text><text transform="translate(470.89,490) scale(0.878,1)" font-size="12" font-weight="bold" fill="#1e1e1e" stroke="#1e1e1e" stroke-width="0.25">Цервикальная жидкость</text><path d="M479.4 502.6 C480.8 505 483.6 507 483.6 509 A4.2 4.2 0 0 1 475.2 509 C475.2 507 478 505 479.4 502.6 Z" fill="none" stroke="#86cbf1" stroke-width="1.1"/><text transform="translate(491.90,511) scale(0.875,1)" font-size="11.3" fill="#333" stroke="#333" stroke-width="0.25">Сухо</text><path d="M475.8 523.2 L483.1 523.2 Q480.4 524.6 480.3 527.2 L480.3 529.6 Q480.4 532.4 483.4 533.8 L475.5 533.8 Q478.6 532.4 478.7 529.6 L478.7 527.2 Q478.6 524.6 475.8 523.2 Z" fill="#86cbf1"/><text transform="translate(491.54,532) scale(0.927,1)" font-size="11.3" fill="#333" stroke="#333" stroke-width="0.25">Клейкая</text><path d="M475.2 543.3 C479 543.2 484.2 545.5 484.2 549.8 C484.2 552.3 482.3 554 479.8 554 C477 554 475.3 552.2 475.3 550 C475.3 548.6 476.4 547.6 477.8 547.4 C477.6 545.8 476.6 544.3 475.2 543.3 Z" fill="#86cbf1"/><text transform="translate(491.54,552) scale(0.931,1)" font-size="11.3" fill="#333" stroke="#333" stroke-width="0.25">Кремообразная</text><path d="M479.40 562.20 C479.99 563.48 481.70 564.95 482.68 565.87 A4.4 4.4 0 1 1 476.12 565.87 C477.10 564.95 478.81 563.48 479.40 562.20 Z" fill="#86cbf1"/><text transform="translate(491.57,572) scale(0.893,1)" font-size="11.3" fill="#333" stroke="#333" stroke-width="0.25">Водянистая</text><ellipse cx="479.8" cy="586.5" rx="4" ry="5.5" fill="#86cbf1"/><text transform="translate(491.93,592) scale(0.897,1)" font-size="11.3" fill="#333" stroke="#333" stroke-width="0.25">Яичный белок</text><path transform="translate(37.4,588) scale(1.05)" d="M0 5.5 C-2 3.8 -6.1 1.5 -6.1 -1.8 C-6.1 -4 -4.5 -5.5 -2.9 -5.5 C-1.5 -5.5 -0.5 -4.8 0 -4.2 C0.5 -4.8 1.5 -5.5 2.9 -5.5 C4.5 -5.5 6.1 -4 6.1 -1.8 C6.1 1.5 2 3.8 0 5.5 Z" fill="#fd4fac"/><text transform="translate(50.35,592) scale(0.930,1)" font-size="11.3" fill="#333" stroke="#333" stroke-width="0.25">Половой акт</text><circle cx="139.6" cy="588" r="7" fill="#c5c5c5"/><line x1="136.79999999999998" y1="591.3" x2="142.4" y2="584.7" stroke="#fff" stroke-width="1.9" stroke-linecap="round"/><text transform="translate(150.97,592) scale(0.903,1)" font-size="11.3" fill="#333" stroke="#333" stroke-width="0.25">Прием лекарств</text><path transform="translate(252,581) scale(1.0)" d="M4.32 0.53 A7 7 0 1 0 13.48 9.65 A7.93 7.93 0 0 1 4.32 0.53 Z" fill="#f39418"/><text transform="translate(270.41,592) scale(0.924,1)" font-size="11.3" fill="#333" stroke="#333" stroke-width="0.25">Лунный календарь</text></svg>
</body></html>
